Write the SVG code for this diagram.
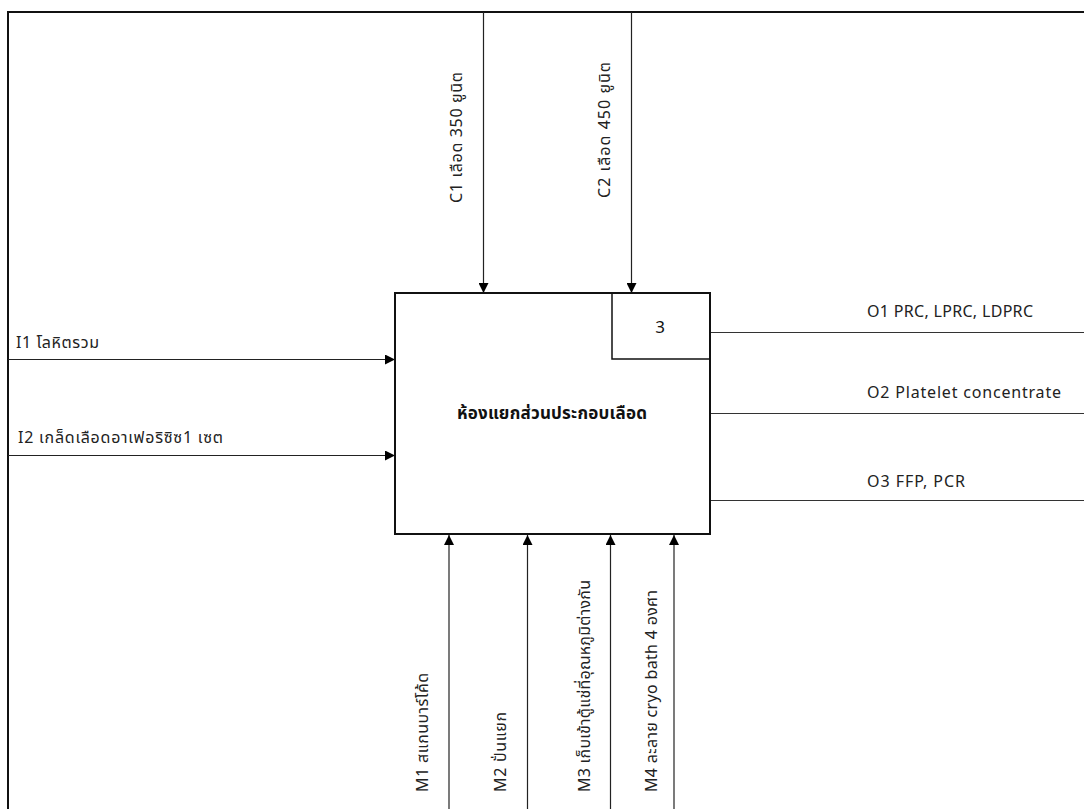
<svg xmlns="http://www.w3.org/2000/svg" width="1084" height="809" viewBox="0 0 1084 809">
  <defs>
    <style>
      .lbl { font-family: "Noto Sans Thai", "Noto Sans", "Liberation Sans", sans-serif; font-size: 16px; fill: #222; }
      .num { font-family: "Noto Sans Thai", "Noto Sans", "Liberation Sans", sans-serif; font-size: 17px; fill: #111; }
      .title { font-family: "Noto Sans Thai", "Noto Sans", "Liberation Sans", sans-serif; font-size: 17px; font-weight: bold; fill: #111; }
      .frame { fill: none; stroke: #111; stroke-width: 2; }
      .box { fill: #fff; stroke: #111; stroke-width: 2; }
      .arrow { fill: none; stroke: #222; stroke-width: 1.2; marker-end: url(#head); }
      .line { fill: none; stroke: #333; stroke-width: 1.2; }
    </style>
    <marker id="head" viewBox="0 0 10 10" refX="10" refY="5" markerWidth="10" markerHeight="10" markerUnits="userSpaceOnUse" orient="auto">
      <path d="M0,0 L10,5 L0,10 Z" fill="#000"/>
    </marker>
  </defs>
  <rect width="1084" height="809" fill="#fff"/>

  <!-- outer frame: top and left edges -->
  <path class="frame" d="M8,809 V12 H1084"/>

  <!-- connectors -->
  <g id="connectors">
    <path class="arrow" d="M483.5,12 V293"/>
    <path class="arrow" d="M631.5,12 V293"/>
    <path class="arrow" d="M8,359.5 H395"/>
    <path class="arrow" d="M8,455.5 H395"/>
    <path class="line" d="M710,332.5 H1084"/>
    <path class="line" d="M710,413.5 H1084"/>
    <path class="line" d="M710,500.5 H1084"/>
    <path class="arrow" d="M449,809 V535"/>
    <path class="arrow" d="M527.5,809 V535"/>
    <path class="arrow" d="M610.5,809 V535"/>
    <path class="arrow" d="M674,809 V535"/>
  </g>

  <!-- activity box -->
  <g id="activity-3">
    <rect class="box" x="395" y="293" width="315" height="241"/>
    <path fill="none" stroke="#111" stroke-width="1.5" d="M612,293 V359 H710"/>
    <text class="num" x="660" y="333" text-anchor="middle">3</text>
    <text class="title" x="457" y="419" textLength="190">ห้องแยกส่วนประกอบเลือด</text>
  </g>

  <!-- control labels -->
  <g id="C1"><text class="lbl" transform="translate(462,203) rotate(-90)" textLength="131">C1 เลือด 350 ยูนิต</text></g>
  <g id="C2"><text class="lbl" transform="translate(610,198) rotate(-90)" textLength="136">C2  เลือด 450 ยูนิต</text></g>

  <!-- input labels -->
  <g id="I1"><text class="lbl" x="16" y="348" textLength="83">I1 โลหิตรวม</text></g>
  <g id="I2"><text class="lbl" x="18" y="443" textLength="205">I2 เกล็ดเลือดอาเฟอริซิซ1 เซต</text></g>

  <!-- output labels -->
  <g id="O1"><text class="lbl" x="867" y="317" textLength="166">O1 PRC, LPRC, LDPRC</text></g>
  <g id="O2"><text class="lbl" x="867" y="398" textLength="194">O2 Platelet concentrate</text></g>
  <g id="O3"><text class="lbl" x="867" y="487" textLength="98">O3 FFP, PCR</text></g>

  <!-- mechanism labels -->
  <g id="M1"><text class="lbl" transform="translate(428,792) rotate(-90)" textLength="119">M1 สแกนบาร์โค้ด</text></g>
  <g id="M2"><text class="lbl" transform="translate(506,792) rotate(-90)" textLength="80">M2 ปั่นแยก</text></g>
  <g id="M3"><text class="lbl" transform="translate(590,792) rotate(-90)" textLength="212">M3 เก็บเข้าตู้แช่ที่อุณหภูมิต่างกัน</text></g>
  <g id="M4"><text class="lbl" transform="translate(657,792) rotate(-90)" textLength="202">M4 ละลาย cryo bath 4 องศา</text></g>
</svg>
